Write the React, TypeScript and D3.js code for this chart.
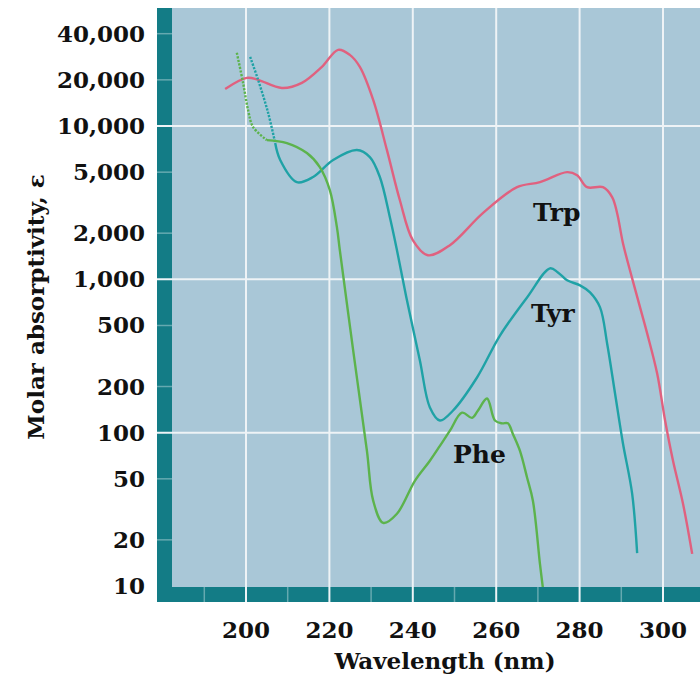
import React from 'react';
import * as d3 from 'd3';

// wavelength (nm) and molar absorptivity
const trpWl = [195, 200.2, 202.9, 208.6, 213.4, 218.2, 222.1, 224.9, 227.3, 230.5, 233.8, 236.9, 240, 243.6, 248.9, 256.8, 265, 270.5, 277, 279.4, 281.8, 285.6, 287.8, 289, 290.4, 292.6, 294.5, 296.2, 298.6, 300.5, 302.4, 304.8, 307];
const trpEps = [17450, 20600, 20000, 17700, 19100, 24300, 31400, 29100, 24300, 14800, 6960, 3280, 1800, 1435, 1670, 2700, 3990, 4300, 5000, 4780, 3990, 3990, 3440, 2700, 1720, 1015, 656, 444, 243, 120, 65.6, 34.4, 16.2];

const tyrWl = [201, 202.9, 205.3, 207, 208.2, 212.2, 216.1, 220.9, 226.6, 229.7, 232.1, 234.5, 236.2, 238.6, 241.7, 244.1, 246.5, 249.6, 255.4, 260.9, 267.4, 272.9, 274.8, 277, 280.1, 282.5, 284.9, 286.6, 288.5, 290.4, 292.6, 293.8];
const tyrEps = [28200, 20000, 12200, 7740, 6000, 4300, 4650, 6000, 6970, 6270, 4650, 2540, 1550, 730, 296, 146, 120, 139, 229, 430, 762, 1180, 1110, 985, 914, 822, 656, 382, 180, 85, 40, 16.4];

const pheWl = [197.8, 199.3, 200.5, 201.7, 205, 209.8, 214.6, 217.7, 220.1, 221.8, 222.5, 225.7, 229, 230.5, 232.9, 236.2, 240.5, 244.1, 246.5, 248.9, 251.8, 254.2, 255.6, 257.8, 259.7, 261.4, 262.8, 264, 265.7, 267.4, 268.8, 270.5, 271.2];
const pheEps = [30000, 19100, 12700, 9850, 8090, 7740, 6660, 5400, 3820, 2190, 1550, 344, 76, 36, 25.8, 29.6, 48.5, 65.6, 82, 103, 135, 125, 139, 167, 120, 115, 115, 98, 76, 51, 36, 13.9, 9.7];

const yTicks = [10, 20, 50, 100, 200, 500, 1000, 2000, 5000, 10000, 20000, 40000];
const yGrid = [10, 100, 1000, 10000];
const xTicks = [200, 220, 240, 260, 280, 300];
const xMinor = [190, 210, 230, 250, 270, 290, 310];

// dotted: how many leading points are drawn dotted
const series = [
  { name: 'Trp', wl: trpWl, eps: trpEps, color: '#e0617f', dotted: 0, label: [533, 221] },
  { name: 'Tyr', wl: tyrWl, eps: tyrEps, color: '#1fa2a6', dotted: 4, label: [531, 322] },
  { name: 'Phe', wl: pheWl, eps: pheEps, color: '#5cb34c', dotted: 5, label: [453, 463] },
];

export default function App() {
  const width = 700;
  const height = 681;
  const plot = { left: 172, right: 700, top: 8, bottom: 587 };
  const band = 15;

  const x = d3.scaleLinear().domain([200, 300]).range([246, 663]);
  const y = d3.scaleLog().domain([10, 10000]).range([586, 126]);

  const line = d3.line<[number, number]>()
    .x(d => x(d[0]))
    .y(d => y(d[1]))
    .curve(d3.curveCatmullRom.alpha(0.5));

  const font = '"DejaVu Serif", serif';

  return (
    <svg width={width} height={height} style={{ position: 'absolute', left: 0, top: 0, background: '#fff' }}>
      <defs>
        <clipPath id="plot-clip">
          <rect x={plot.left} y={plot.top} width={plot.right - plot.left} height={plot.bottom - plot.top} />
        </clipPath>
      </defs>

      <rect x={plot.left} y={plot.top} width={plot.right - plot.left} height={plot.bottom - plot.top} fill="#a9c7d7" />
      <rect x={plot.left - band} y={plot.top} width={band} height={plot.bottom - plot.top + band} fill="#137c86" />
      <rect x={plot.left - band} y={plot.bottom} width={plot.right - plot.left + band} height={band} fill="#137c86" />

      {/* minor ticks inside the bands */}
      {yTicks.filter(t => !yGrid.includes(t)).map(t => (
        <line key={'ym' + t} x1={plot.left - band} x2={plot.left} y1={y(t)} y2={y(t)} stroke="#ffffff" strokeOpacity={0.35} strokeWidth={1.5} />
      ))}
      {xMinor.map(t => (
        <line key={'xm' + t} x1={x(t)} x2={x(t)} y1={plot.bottom} y2={plot.bottom + band} stroke="#ffffff" strokeOpacity={0.35} strokeWidth={1.5} />
      ))}

      {/* grid */}
      {yGrid.filter(t => t > 10).map(t => (
        <line key={'yg' + t} x1={plot.left - band} x2={plot.right} y1={y(t)} y2={y(t)} stroke="#eef3f6" strokeWidth={2} />
      ))}
      {xTicks.map(t => (
        <line key={'xg' + t} x1={x(t)} x2={x(t)} y1={plot.top} y2={plot.bottom + band} stroke="#eef3f6" strokeWidth={2} />
      ))}

      <g clipPath="url(#plot-clip)" fill="none" strokeWidth={2.4} strokeLinejoin="round">
        {series.map(s => {
          const pts: [number, number][] = s.wl.map((w, i) => [w, s.eps[i]]);
          const dotted = s.dotted > 1 ? pts.slice(0, s.dotted) : [];
          const solid = s.dotted > 1 ? pts.slice(s.dotted - 1) : pts;
          return (
            <g key={s.name}>
              {dotted.length > 1 && (
                <path d={line(dotted) || ''} stroke={s.color} strokeDasharray="2.2 1.4" />
              )}
              <path d={line(solid) || ''} stroke={s.color} />
            </g>
          );
        })}
      </g>

      {series.map(s => (
        <text key={'lb' + s.name} x={s.label[0]} y={s.label[1]} fontFamily={font} fontWeight="bold" fontSize={25} fill="#111">
          {s.name}
        </text>
      ))}

      {/* y axis labels */}
      {yTicks.map(t => (
        <text key={'yl' + t} x={145} y={y(t) + 8} textAnchor="end" fontFamily={font} fontWeight="bold" fontSize={23} fill="#111">
          {d3.format(',')(t)}
        </text>
      ))}
      {xTicks.map(t => (
        <text key={'xl' + t} x={x(t)} y={638} textAnchor="middle" fontFamily={font} fontWeight="bold" fontSize={23} fill="#111">
          {t}
        </text>
      ))}

      <text x={445} y={669} textAnchor="middle" fontFamily={font} fontWeight="bold" fontSize={23} fill="#111">
        Wavelength (nm)
      </text>
      <text transform="translate(44,307) rotate(-90)" textAnchor="middle" fontFamily={font} fontWeight="bold" fontSize={23} fill="#111">
        Molar absorptivity, ε
      </text>
    </svg>
  );
}
